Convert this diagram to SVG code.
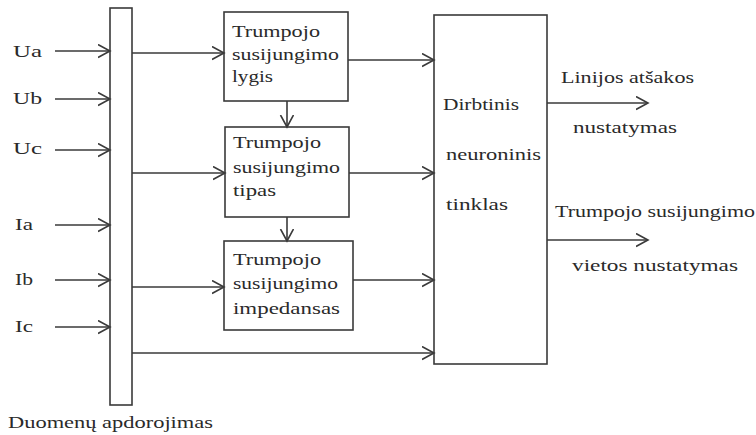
<svg xmlns="http://www.w3.org/2000/svg" width="756" height="435" viewBox="0 0 756 435">
  <style>
    .box { fill: #ffffff; stroke: #3a3a3a; stroke-width: 1.6; }
    .wire { fill: none; stroke: #3a3a3a; stroke-width: 1.6; marker-end: url(#chev); }
    text { font-family: "Liberation Serif", "Times New Roman", serif; font-size: 17px; fill: #2a2a2a; }
  </style>
  <defs>
    <marker id="chev" markerUnits="userSpaceOnUse" markerWidth="14" markerHeight="16" refX="12" refY="7" orient="auto">
      <path d="M0,0.5 L12,7 L0,13.5" fill="none" stroke="#3a3a3a" stroke-width="1.6"/>
    </marker>
  </defs>

  <rect width="756" height="435" fill="#ffffff"/>

  <!-- input signal labels -->
  <g id="inputs">
    <text x="13" y="57" textLength="29" lengthAdjust="spacingAndGlyphs">Ua</text>
    <text x="13" y="104" textLength="29" lengthAdjust="spacingAndGlyphs">Ub</text>
    <text x="13" y="154" textLength="29" lengthAdjust="spacingAndGlyphs">Uc</text>
    <text x="15" y="230" textLength="18" lengthAdjust="spacingAndGlyphs">Ia</text>
    <text x="15" y="285" textLength="18" lengthAdjust="spacingAndGlyphs">Ib</text>
    <text x="15" y="332" textLength="18" lengthAdjust="spacingAndGlyphs">Ic</text>
  </g>

  <!-- data processing bar -->
  <g id="preprocessing">
    <rect class="box" x="110" y="8" width="22" height="397"/>
    <text x="8" y="428" textLength="205" lengthAdjust="spacingAndGlyphs">Duomenų apdorojimas</text>
  </g>

  <!-- fault level -->
  <g id="level">
    <rect class="box" x="224" y="12" width="124" height="89"/>
    <text x="232" y="37" textLength="88" lengthAdjust="spacingAndGlyphs">Trumpojo</text>
    <text x="232" y="60" textLength="107" lengthAdjust="spacingAndGlyphs">susijungimo</text>
    <text x="232" y="82" textLength="41" lengthAdjust="spacingAndGlyphs">lygis</text>
  </g>

  <!-- fault type -->
  <g id="type">
    <rect class="box" x="225" y="127" width="124" height="90"/>
    <text x="233" y="148" textLength="88" lengthAdjust="spacingAndGlyphs">Trumpojo</text>
    <text x="233" y="173" textLength="107" lengthAdjust="spacingAndGlyphs">susijungimo</text>
    <text x="233" y="196" textLength="43" lengthAdjust="spacingAndGlyphs">tipas</text>
  </g>

  <!-- fault impedance -->
  <g id="impedance">
    <rect class="box" x="224" y="241" width="129" height="89"/>
    <text x="233" y="265" textLength="88" lengthAdjust="spacingAndGlyphs">Trumpojo</text>
    <text x="233" y="289" textLength="105" lengthAdjust="spacingAndGlyphs">susijungimo</text>
    <text x="233" y="314" textLength="107" lengthAdjust="spacingAndGlyphs">impedansas</text>
  </g>

  <!-- neural network -->
  <g id="ann">
    <rect class="box" x="434" y="15" width="113" height="349"/>
    <text x="443" y="110" textLength="76" lengthAdjust="spacingAndGlyphs">Dirbtinis</text>
    <text x="446" y="160" textLength="95" lengthAdjust="spacingAndGlyphs">neuroninis</text>
    <text x="446" y="210" textLength="62" lengthAdjust="spacingAndGlyphs">tinklas</text>
  </g>

  <!-- outputs -->
  <g id="outputs">
    <text x="561" y="83" textLength="133" lengthAdjust="spacingAndGlyphs">Linijos atšakos</text>
    <text x="573" y="133" textLength="104" lengthAdjust="spacingAndGlyphs">nustatymas</text>
    <text x="555" y="217" textLength="200" lengthAdjust="spacingAndGlyphs">Trumpojo susijungimo</text>
    <text x="572" y="271" textLength="166" lengthAdjust="spacingAndGlyphs">vietos nustatymas</text>
  </g>

  <!-- connectors -->
  <g id="connectors">
    <line class="wire" x1="55" y1="51" x2="110" y2="51"/>
    <line class="wire" x1="55" y1="99" x2="110" y2="99"/>
    <line class="wire" x1="55" y1="150" x2="110" y2="150"/>
    <line class="wire" x1="55" y1="225" x2="110" y2="225"/>
    <line class="wire" x1="55" y1="280" x2="110" y2="280"/>
    <line class="wire" x1="55" y1="327" x2="110" y2="327"/>

    <line class="wire" x1="132" y1="53" x2="224" y2="53"/>
    <line class="wire" x1="132" y1="173" x2="225" y2="173"/>
    <line class="wire" x1="132" y1="287" x2="224" y2="287"/>
    <line class="wire" x1="132" y1="353" x2="434" y2="353"/>

    <line class="wire" x1="287" y1="101" x2="287" y2="127"/>
    <line class="wire" x1="287" y1="217" x2="287" y2="241"/>

    <line class="wire" x1="348" y1="60" x2="434" y2="60"/>
    <line class="wire" x1="349" y1="173" x2="434" y2="173"/>
    <line class="wire" x1="353" y1="280" x2="434" y2="280"/>

    <line class="wire" x1="547" y1="103" x2="648" y2="103"/>
    <line class="wire" x1="547" y1="240" x2="648" y2="240"/>
  </g>
</svg>
